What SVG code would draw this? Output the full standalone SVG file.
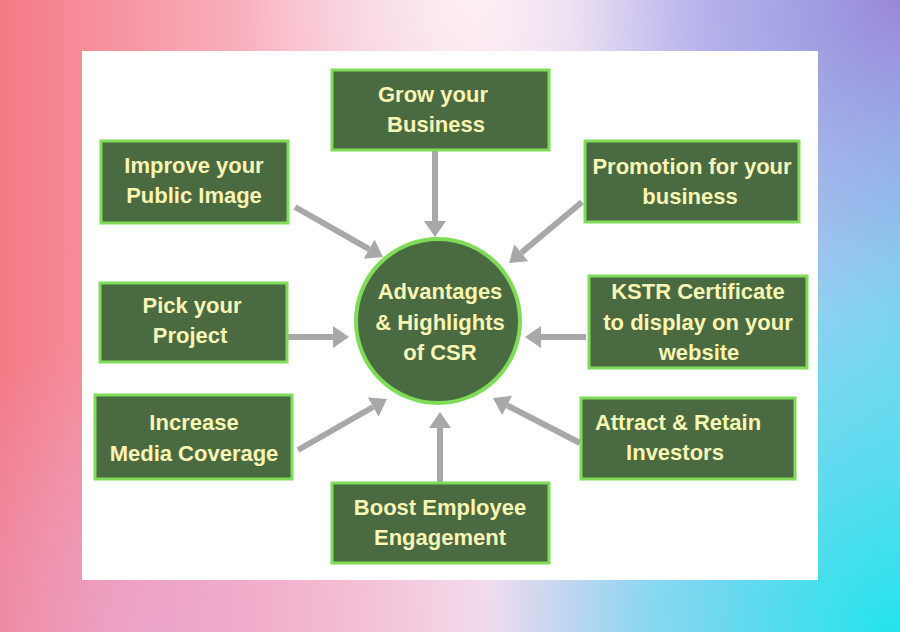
<svg xmlns="http://www.w3.org/2000/svg" width="900" height="632" viewBox="0 0 900 632">
  <defs>
    <linearGradient id="bgBase" x1="0" y1="0" x2="1" y2="0">
      <stop offset="0" stop-color="#f47a85"/>
      <stop offset="0.3" stop-color="#f9b7c4"/>
      <stop offset="0.55" stop-color="#f2dbee"/>
      <stop offset="0.8" stop-color="#b9c2f2"/>
      <stop offset="1" stop-color="#7ecff0"/>
    </linearGradient>
    <radialGradient id="bgTR" cx="900" cy="0" r="330" gradientUnits="userSpaceOnUse">
      <stop offset="0" stop-color="#9b86d8" stop-opacity="1"/>
      <stop offset="1" stop-color="#b9a6e8" stop-opacity="0"/>
    </radialGradient>
    <radialGradient id="bgBR" cx="900" cy="632" r="420" gradientUnits="userSpaceOnUse">
      <stop offset="0" stop-color="#22e3ea" stop-opacity="1"/>
      <stop offset="0.6" stop-color="#5fe0f0" stop-opacity="0.6"/>
      <stop offset="1" stop-color="#8fd8f4" stop-opacity="0"/>
    </radialGradient>
    <radialGradient id="bgBL" cx="150" cy="632" r="300" gradientUnits="userSpaceOnUse">
      <stop offset="0" stop-color="#e6a8d8" stop-opacity="0.7"/>
      <stop offset="1" stop-color="#e6a8d8" stop-opacity="0"/>
    </radialGradient>
    <radialGradient id="bgTop" cx="470" cy="0" r="220" gradientUnits="userSpaceOnUse">
      <stop offset="0" stop-color="#fff4f6" stop-opacity="0.8"/>
      <stop offset="1" stop-color="#fff4f6" stop-opacity="0"/>
    </radialGradient>
    <marker id="arrowHead" markerUnits="userSpaceOnUse" markerWidth="16" markerHeight="22" viewBox="0 0 16 22" refX="0" refY="11" orient="auto">
      <path d="M0,0 L16,11 L0,22 Z" fill="#a8a8a8"/>
    </marker>
    <style>
      .box { fill: #4a6a42; stroke: #7fdc58; stroke-width: 3; }
      .hub { fill: #4a6a42; stroke: #7fdc58; stroke-width: 4; }
      .lbl { font-family: "Liberation Sans", Arial, sans-serif; font-weight: bold; font-size: 22px; fill: #fbf5b4; text-anchor: middle; }
      .conn { stroke: #a8a8a8; stroke-width: 6; fill: none; marker-end: url(#arrowHead); }
    </style>
  </defs>

  <g id="background">
    <rect x="0" y="0" width="900" height="632" fill="url(#bgBase)"/>
    <rect x="0" y="0" width="900" height="632" fill="url(#bgTop)"/>
    <rect x="0" y="0" width="900" height="632" fill="url(#bgTR)"/>
    <rect x="0" y="0" width="900" height="632" fill="url(#bgBR)"/>
    <rect x="0" y="0" width="900" height="632" fill="url(#bgBL)"/>
    <rect x="82" y="51" width="736" height="529" fill="#ffffff"/>
  </g>

  <g id="connectors">
    <line class="conn" x1="435" y1="150" x2="435" y2="221"/>
    <line class="conn" x1="295" y1="207" x2="369.1" y2="249.1"/>
    <line class="conn" x1="582" y1="202" x2="521.3" y2="252.7"/>
    <line class="conn" x1="288" y1="337" x2="333" y2="337"/>
    <line class="conn" x1="586" y1="337" x2="541" y2="337"/>
    <line class="conn" x1="298" y1="450" x2="373.1" y2="407"/>
    <line class="conn" x1="440" y1="483" x2="440" y2="428"/>
    <line class="conn" x1="580" y1="443" x2="507.2" y2="405.4"/>
  </g>

  <g id="hub">
    <circle class="hub" cx="438" cy="321" r="82"/>
    <text class="lbl" x="440" y="299">Advantages</text>
    <text class="lbl" x="440" y="330">&amp; Highlights</text>
    <text class="lbl" x="440" y="360">of CSR</text>
  </g>

  <g id="grow">
    <rect class="box" x="332" y="70" width="217" height="80"/>
    <text class="lbl" x="433" y="102">Grow your</text>
    <text class="lbl" x="436" y="132">Business</text>
  </g>

  <g id="improve">
    <rect class="box" x="101" y="141" width="187" height="82"/>
    <text class="lbl" x="194" y="173">Improve your</text>
    <text class="lbl" x="194" y="203">Public Image</text>
  </g>

  <g id="promotion">
    <rect class="box" x="585" y="141" width="214" height="81"/>
    <text class="lbl" x="692" y="174">Promotion for your</text>
    <text class="lbl" x="690" y="204">business</text>
  </g>

  <g id="pick">
    <rect class="box" x="100" y="283" width="187" height="79"/>
    <text class="lbl" x="192" y="313">Pick your</text>
    <text class="lbl" x="190" y="343">Project</text>
  </g>

  <g id="kstr">
    <rect class="box" x="589" y="276" width="218" height="92"/>
    <text class="lbl" x="698" y="299">KSTR Certificate</text>
    <text class="lbl" x="698" y="330">to display on your</text>
    <text class="lbl" x="699" y="360">website</text>
  </g>

  <g id="media">
    <rect class="box" x="95" y="395" width="197" height="84"/>
    <text class="lbl" x="194" y="430">Increase</text>
    <text class="lbl" x="194" y="461">Media Coverage</text>
  </g>

  <g id="attract">
    <rect class="box" x="581" y="398" width="214" height="81"/>
    <text class="lbl" x="678" y="430">Attract &amp; Retain</text>
    <text class="lbl" x="675" y="460">Investors</text>
  </g>

  <g id="boost">
    <rect class="box" x="332" y="483" width="217" height="80"/>
    <text class="lbl" x="440" y="515">Boost Employee</text>
    <text class="lbl" x="440" y="545">Engagement</text>
  </g>
</svg>
